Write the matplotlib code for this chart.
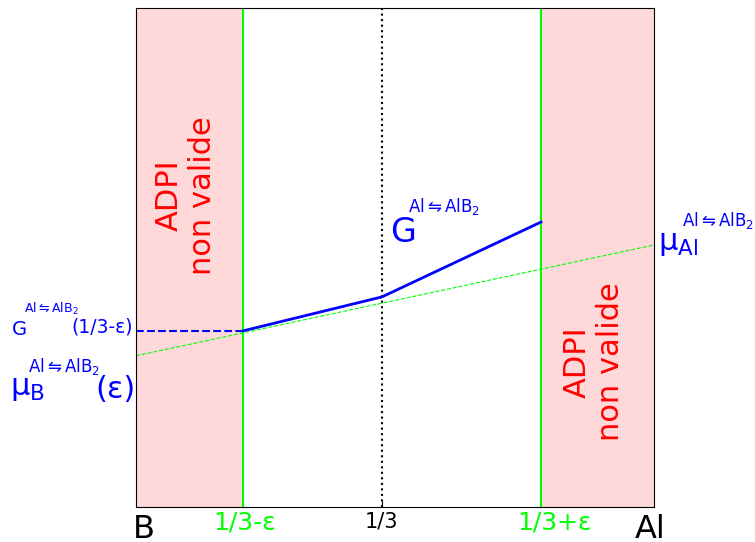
import numpy as np
import matplotlib.pyplot as plt

# positions of the composition markers (axis runs 0..1)
x_left = 0.207    # 1/3 - eps
x_mid = 0.475     # 1/3
x_right = 0.782   # 1/3 + eps

# G curve between the two limits
g_x = [x_left, x_mid, x_right]
g_y = [0.353, 0.421, 0.571]

# common tangent (chemical potentials at the edges)
mu_x = [0.0, 1.0]
mu_y = [0.303, 0.525]

sup = r'$\mathregular{Al\leftrightharpoons AlB_2}$'

fig = plt.figure(figsize=(7.55, 5.42), dpi=100)
ax = fig.add_axes([0.180, 0.0646, 0.686, 0.9206])
ax.set_xlim(0, 1)
ax.set_ylim(0, 1)

# forbidden zones
ax.axvspan(0, x_left, color="red", alpha=0.15, lw=0)
ax.axvspan(x_right, 1, color="red", alpha=0.15, lw=0)
ax.axvline(x_left, color="lime", lw=1.5)
ax.axvline(x_right, color="lime", lw=1.5)
ax.axvline(x_mid, color="black", ls=":", lw=1.5)

ax.plot(mu_x, mu_y, "--", color="lime", lw=0.8)
ax.plot(g_x, g_y, "-", color="blue", lw=2)
ax.plot([0, x_left], [g_y[0], g_y[0]], "--", color="blue", lw=1.5)

ax.set_xticks([x_mid])
ax.set_xticklabels(["1/3"], fontsize=15)
ax.set_yticks([])
ax.tick_params(axis="x", direction="in", length=4, pad=3)

# red zone labels
for xc, yc in [(0.097, 0.625), (0.884, 0.291)]:
    ax.text(xc, yc, "ADPI\nnon valide", color="red", fontsize=22,
            rotation=90, ha="center", va="center", multialignment="center")

# G label in the middle
ax.text(0.490, 0.531, "G", color="blue", fontsize=24, va="baseline")
ax.text(0.525, 0.591, sup, color="blue", fontsize=12, va="baseline")

# right mu label
ax.text(1.008, 0.515, r'$\mathregular{\mu_{Al}}$', color="blue", fontsize=22,
        va="baseline", clip_on=False)
ax.text(1.054, 0.563, sup, color="blue", fontsize=12, va="baseline", clip_on=False)

# left labels
ax.text(-0.239, 0.345, "G", color="blue", fontsize=14, va="baseline", clip_on=False)
ax.text(-0.216, 0.389, sup, color="blue", fontsize=9, va="baseline", clip_on=False)
ax.text(-0.124, 0.349, "(1/3-ε)", color="blue", fontsize=13.5, va="baseline", clip_on=False)

ax.text(-0.243, 0.224, r'$\mathregular{\mu_B}$', color="blue", fontsize=22,
        va="baseline", clip_on=False)
ax.text(-0.209, 0.271, sup, color="blue", fontsize=12, va="baseline", clip_on=False)
ax.text(-0.079, 0.218, "(ε)", color="blue", fontsize=22, va="baseline", clip_on=False)

# bottom labels
ax.text(0.149, -0.046, "1/3-ε", color="lime", fontsize=18, ha="left", va="baseline", clip_on=False)
ax.text(0.737, -0.046, "1/3+ε", color="lime", fontsize=18, ha="left", va="baseline", clip_on=False)
ax.text(-0.006, -0.063, "B", color="black", fontsize=23, ha="left", va="baseline", clip_on=False)
ax.text(0.963, -0.063, "Al", color="black", fontsize=23, ha="left", va="baseline", clip_on=False)

fig.savefig("out.png", dpi=100)
